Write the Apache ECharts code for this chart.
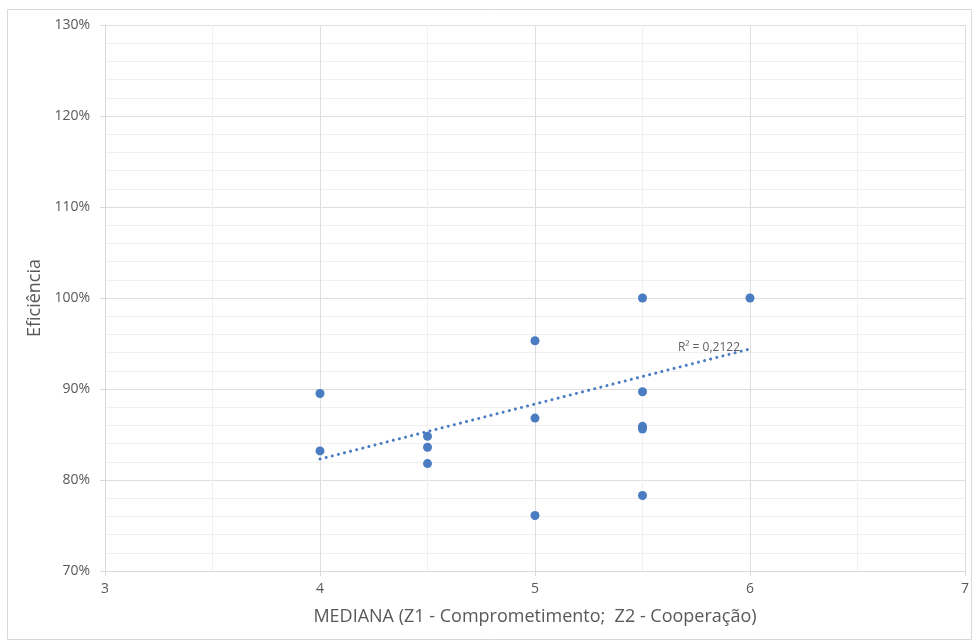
<!DOCTYPE html>
<html>
<head>
<meta charset="utf-8">
<script src="https://cdn.jsdelivr.net/npm/echarts@6/dist/echarts.min.js"></script>
<style>
  html, body { margin: 0; padding: 0; background: #fff; }
  #chart { width: 973px; height: 641px; }
</style>
</head>
<body>
<div id="chart"></div>
<script>
// Median score (Z1 commitment; Z2 cooperation) vs. efficiency (%)
const medianValues = [4, 4, 4.5, 4.5, 4.5, 5, 5, 5, 5.5, 5.5, 5.5, 5.5, 5.5, 6];
const efficiencyValues = [89.5, 83.2, 84.8, 83.6, 81.8, 95.3, 86.8, 76.1, 100, 89.7, 85.9, 85.6, 78.3, 100];

// Linear trendline end points and its fit statistic
const trendX = [4, 6];
const trendY = [82.3, 94.4];
const trendLabel = 'R² = 0,2122';

const xTicks = [3, 7, 1];      // min, max, step
const yTicks = [70, 130, 10];  // min, max, step (%)

const pointColor = '#4a7cc2';
const axisText = '#595959';
const fontFamily = '"Open Sans", "Noto Sans", sans-serif';

const chart = echarts.init(document.getElementById('chart'));

chart.setOption({
  animation: false,
  backgroundColor: '#fff',
  graphic: [{
    type: 'rect',
    shape: { x: 7.5, y: 9.5, width: 964, height: 630 },
    style: { fill: 'none', stroke: '#d9d9d9', lineWidth: 1 },
    silent: true
  }],
  grid: { left: 105, right: 8, top: 25, bottom: 70 },
  xAxis: {
    type: 'value',
    min: xTicks[0], max: xTicks[1], interval: xTicks[2],
    name: 'MEDIANA (Z1 - Comprometimento;  Z2 - Cooperação)',
    nameLocation: 'middle',
    nameGap: 37,
    nameTextStyle: { color: axisText, fontSize: 18, fontFamily },
    axisLine: { show: true, lineStyle: { color: '#d9d9d9' } },
    axisTick: { show: true, length: 5, lineStyle: { color: '#d9d9d9' } },
    axisLabel: { color: axisText, fontSize: 14, margin: 11, fontFamily },
    splitLine: { show: true, lineStyle: { color: '#dedede' } },
    minorTick: { show: false, splitNumber: 2 },
    minorSplitLine: { show: true, lineStyle: { color: '#f0f0f0' } }
  },
  yAxis: {
    type: 'value',
    min: yTicks[0], max: yTicks[1], interval: yTicks[2],
    name: 'Eficiência',
    nameLocation: 'middle',
    nameGap: 56,
    nameTextStyle: { color: axisText, fontSize: 18, fontFamily },
    axisLine: { show: true, lineStyle: { color: '#d9d9d9' } },
    axisTick: { show: true, length: 5, lineStyle: { color: '#d9d9d9' } },
    axisLabel: { color: axisText, fontSize: 14, margin: 15, fontFamily, formatter: '{value}%' },
    splitLine: { show: true, lineStyle: { color: '#dedede' } },
    minorTick: { show: false, splitNumber: 5 },
    minorSplitLine: { show: true, lineStyle: { color: '#f0f0f0' } }
  },
  series: [
    {
      type: 'line',
      data: trendX.map((x, i) => [x, trendY[i]]),
      showSymbol: false,
      symbol: 'none',
      lineStyle: { color: pointColor, width: 3, type: [0.1, 6.2], cap: 'round' },
      z: 2,
      silent: true
    },
    {
      type: 'scatter',
      data: medianValues.map((x, i) => [x, efficiencyValues[i]]),
      symbolSize: 9,
      itemStyle: { color: pointColor, opacity: 1 },
      z: 3
    },
    {
      type: 'scatter',
      data: [[trendX[1], trendY[1]]],
      symbolSize: 0,
      label: {
        show: true,
        position: 'left',
        distance: 10,
        offset: [0, -1],
        formatter: trendLabel,
        color: '#333333',
        fontSize: 12,
        fontFamily
      },
      z: 4,
      silent: true
    }
  ]
});
</script>
</body>
</html>
